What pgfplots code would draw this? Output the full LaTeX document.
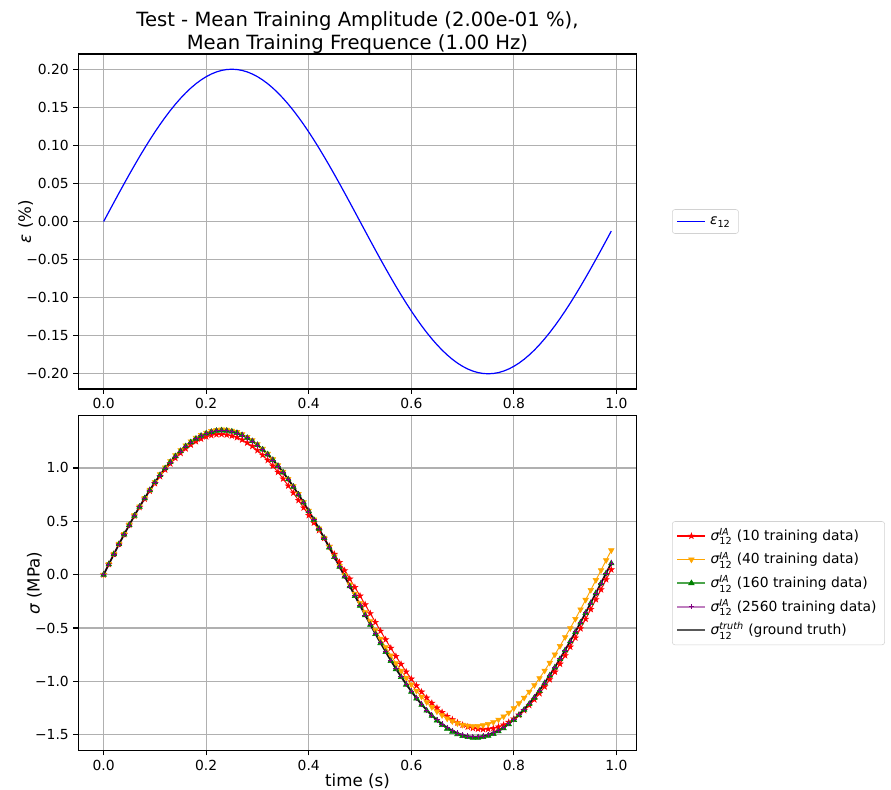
\documentclass[border=0pt]{standalone}
\usepackage{fontspec}
\setmainfont{DejaVu Sans}
\usepackage{amsmath}
\usepackage{pgfplots}
\usepackage{pgfplotstable}
\pgfplotsset{compat=1.18}

\definecolor{mplorange}{RGB}{255,165,0}
\definecolor{mplgreen}{RGB}{0,128,0}
\definecolor{mplpurple}{RGB}{128,0,128}
\definecolor{mplblue}{RGB}{0,0,255}
\definecolor{gridgray}{RGB}{176,176,176}

\pgfdeclareplotmark{fstar}{%
  \pgfpathmoveto{\pgfpointpolar{90}{\pgfplotmarksize}}%
  \pgfpathlineto{\pgfpointpolar{126}{0.382\pgfplotmarksize}}%
  \pgfpathlineto{\pgfpointpolar{162}{\pgfplotmarksize}}%
  \pgfpathlineto{\pgfpointpolar{198}{0.382\pgfplotmarksize}}%
  \pgfpathlineto{\pgfpointpolar{234}{\pgfplotmarksize}}%
  \pgfpathlineto{\pgfpointpolar{270}{0.382\pgfplotmarksize}}%
  \pgfpathlineto{\pgfpointpolar{306}{\pgfplotmarksize}}%
  \pgfpathlineto{\pgfpointpolar{342}{0.382\pgfplotmarksize}}%
  \pgfpathlineto{\pgfpointpolar{18}{\pgfplotmarksize}}%
  \pgfpathlineto{\pgfpointpolar{54}{0.382\pgfplotmarksize}}%
  \pgfpathclose
  \pgfusepathqfillstroke}

\pgfplotstableread{
t eps r o g tr
0.00 0.00000 0.000 0.000 0.000 0.000
0.01 0.01256 0.097 0.100 0.097 0.097
0.02 0.02507 0.192 0.195 0.192 0.192
0.03 0.03748 0.286 0.289 0.286 0.286
0.04 0.04974 0.377 0.380 0.377 0.377
0.05 0.06180 0.466 0.469 0.466 0.466
0.06 0.07363 0.551 0.556 0.553 0.553
0.07 0.08516 0.632 0.639 0.636 0.636
0.08 0.09635 0.710 0.719 0.716 0.716
0.09 0.10717 0.784 0.795 0.792 0.792
0.10 0.11756 0.855 0.868 0.865 0.865
0.11 0.12748 0.921 0.941 0.933 0.933
0.12 0.13691 0.983 1.005 0.997 0.997
0.13 0.14579 1.040 1.064 1.056 1.056
0.14 0.15410 1.092 1.118 1.110 1.110
0.15 0.16180 1.139 1.167 1.159 1.159
0.16 0.16887 1.181 1.211 1.203 1.203
0.17 0.17526 1.217 1.249 1.241 1.241
0.18 0.18097 1.248 1.282 1.274 1.274
0.19 0.18596 1.273 1.309 1.301 1.301
0.20 0.19021 1.293 1.331 1.323 1.323
0.21 0.19372 1.306 1.346 1.338 1.338
0.22 0.19646 1.314 1.356 1.348 1.348
0.23 0.19842 1.316 1.360 1.352 1.352
0.24 0.19961 1.311 1.357 1.349 1.349
0.25 0.20000 1.301 1.349 1.341 1.341
0.26 0.19961 1.286 1.336 1.328 1.328
0.27 0.19842 1.264 1.316 1.308 1.308
0.28 0.19646 1.236 1.290 1.282 1.282
0.29 0.19372 1.204 1.260 1.252 1.252
0.30 0.19021 1.165 1.223 1.215 1.215
0.31 0.18596 1.121 1.179 1.173 1.173
0.32 0.18097 1.073 1.133 1.127 1.127
0.33 0.17526 1.019 1.081 1.075 1.075
0.34 0.16887 0.961 1.025 1.019 1.019
0.35 0.16180 0.899 0.964 0.958 0.958
0.36 0.15410 0.833 0.897 0.893 0.893
0.37 0.14579 0.766 0.828 0.824 0.824
0.38 0.13691 0.697 0.755 0.751 0.751
0.39 0.12748 0.627 0.679 0.675 0.675
0.40 0.11756 0.556 0.600 0.596 0.596
0.41 0.10717 0.486 0.517 0.514 0.514
0.42 0.09635 0.415 0.433 0.430 0.430
0.43 0.08516 0.342 0.347 0.344 0.344
0.44 0.07363 0.267 0.258 0.255 0.255
0.45 0.06180 0.192 0.169 0.166 0.166
0.46 0.04974 0.116 0.082 0.073 0.076
0.47 0.03748 0.039 -0.005 -0.018 -0.015
0.48 0.02507 -0.040 -0.093 -0.110 -0.107
0.49 0.01256 -0.119 -0.180 -0.201 -0.198
0.50 0.00000 -0.199 -0.266 -0.291 -0.288
0.51 -0.01256 -0.281 -0.352 -0.381 -0.378
0.52 -0.02507 -0.364 -0.437 -0.470 -0.467
0.53 -0.03748 -0.446 -0.520 -0.557 -0.554
0.54 -0.04974 -0.528 -0.601 -0.642 -0.639
0.55 -0.06180 -0.609 -0.680 -0.725 -0.722
0.56 -0.07363 -0.688 -0.757 -0.809 -0.803
0.57 -0.08516 -0.765 -0.830 -0.886 -0.880
0.58 -0.09635 -0.839 -0.900 -0.960 -0.954
0.59 -0.10717 -0.910 -0.967 -1.031 -1.025
0.60 -0.11756 -0.977 -1.030 -1.098 -1.092
0.61 -0.12748 -1.040 -1.089 -1.161 -1.155
0.62 -0.13691 -1.099 -1.144 -1.220 -1.214
0.63 -0.14579 -1.154 -1.195 -1.274 -1.268
0.64 -0.15410 -1.204 -1.241 -1.323 -1.317
0.65 -0.16180 -1.249 -1.282 -1.367 -1.361
0.66 -0.16887 -1.290 -1.318 -1.410 -1.400
0.67 -0.17526 -1.327 -1.349 -1.444 -1.434
0.68 -0.18097 -1.359 -1.374 -1.472 -1.462
0.69 -0.18596 -1.387 -1.394 -1.495 -1.485
0.70 -0.19021 -1.409 -1.408 -1.512 -1.502
0.71 -0.19372 -1.426 -1.417 -1.523 -1.513
0.72 -0.19646 -1.439 -1.421 -1.529 -1.519
0.73 -0.19842 -1.446 -1.419 -1.528 -1.518
0.74 -0.19961 -1.449 -1.412 -1.522 -1.512
0.75 -0.20000 -1.447 -1.400 -1.510 -1.500
0.76 -0.19961 -1.440 -1.383 -1.493 -1.483
0.77 -0.19842 -1.426 -1.359 -1.469 -1.459
0.78 -0.19646 -1.408 -1.330 -1.441 -1.431
0.79 -0.19372 -1.383 -1.294 -1.402 -1.396
0.80 -0.19021 -1.352 -1.253 -1.362 -1.356
0.81 -0.18596 -1.315 -1.206 -1.317 -1.311
0.82 -0.18097 -1.272 -1.154 -1.267 -1.261
0.83 -0.17526 -1.224 -1.097 -1.212 -1.206
0.84 -0.16887 -1.171 -1.036 -1.153 -1.147
0.85 -0.16180 -1.113 -0.970 -1.089 -1.083
0.86 -0.15410 -1.050 -0.900 -1.017 -1.015
0.87 -0.14579 -0.983 -0.826 -0.945 -0.943
0.88 -0.13691 -0.912 -0.749 -0.870 -0.868
0.89 -0.12748 -0.837 -0.669 -0.791 -0.789
0.90 -0.11756 -0.758 -0.586 -0.709 -0.707
0.91 -0.10717 -0.677 -0.502 -0.625 -0.623
0.92 -0.09635 -0.592 -0.415 -0.538 -0.536
0.93 -0.08516 -0.505 -0.326 -0.449 -0.447
0.94 -0.07363 -0.416 -0.236 -0.359 -0.357
0.95 -0.06180 -0.325 -0.144 -0.267 -0.265
0.96 -0.04974 -0.233 -0.051 -0.174 -0.172
0.97 -0.03748 -0.140 0.041 -0.081 -0.079
0.98 -0.02507 -0.046 0.135 0.013 0.015
0.99 -0.01256 0.047 0.228 0.106 0.108
}\data

\pgfplotsset{
  mplaxis/.style={
    scale only axis, width=418.8pt, height=251.25pt,
    xmin=-0.0495, xmax=1.0395,
    xtick={0,0.2,0.4,0.6,0.8,1.0},
    xticklabels={0.0,0.2,0.4,0.6,0.8,1.0},
    grid=major,
    major grid style={color=gridgray, line width=0.83pt},
    axis line style={line width=0.83pt},
    tick align=outside, tick pos=left,
    major tick length=3.6pt,
    every tick/.style={black, line width=0.83pt},
    ticklabel style={font=\fontsize{10.4}{12}\selectfont},
    label style={font=\fontsize{12.5}{15}\selectfont},
    ylabel shift=-12pt,
    legend cell align=left,
  },
}

\begin{document}
\begin{tikzpicture}
\path[use as bounding box] (-58.7pt,-300pt) rectangle (609.55pt,291.75pt);

\begin{axis}[mplaxis,
  ymin=-0.22, ymax=0.22,
  ytick={-0.2,-0.15,-0.1,-0.05,0,0.05,0.1,0.15,0.2},
  yticklabels={−0.20,−0.15,−0.10,−0.05,0.00,0.05,0.10,0.15,0.20},
  ylabel={{\itshape ε} (\%)},
  title={Test - Mean Training Amplitude (2.00e-01 \%),\\Mean Training Frequence (1.00 Hz)},
  title style={font=\fontsize{14.7}{17.25}\selectfont, align=center, yshift=-9pt},
  legend style={font=\fontsize{10.4}{12}\selectfont, draw=gray!35, rounded corners=2pt,
    at={(1.0633,0.5)}, anchor=west, inner xsep=3pt, inner ysep=2pt,
    nodes={inner xsep=3pt, inner ysep=2pt, text height=7.5pt, text depth=2.5pt}},
]
\addplot[color=blue, line width=0.9pt, forget plot] table[x=t, y=eps] {\data};
\addlegendimage{blue, line width=1.3pt, line legend,
  legend image code/.code={\draw[blue, line width=1.3pt] (0pt,0pt) -- (21pt,0pt);}}
\addlegendentry{$\text{\itshape ε}_{\text{12}}$}
\end{axis}

\begin{axis}[mplaxis, at={(0pt,-271.25pt)}, anchor=south west,
  ymin=-1.65, ymax=1.49,
  ytick={-1.5,-1,-0.5,0,0.5,1},
  yticklabels={−1.5,−1.0,−0.5,0.0,0.5,1.0},
  ylabel={{\itshape σ} (MPa)},
  xlabel={time (s)},
  xlabel style={yshift=4.5pt},
  legend style={font=\fontsize{10.4}{12}\selectfont, draw=gray!35, rounded corners=2pt,
    at={(1.0633,0.5)}, anchor=west, inner xsep=3pt, inner ysep=2pt,
    nodes={inner xsep=3pt, inner ysep=1.6pt, text height=10.5pt, text depth=4pt}},
]
\addplot[color=red, line width=0.7pt, mark=fstar, mark size=2.3pt,
  mark options={solid, line width=0.4pt},
  legend image code/.code={\draw[draw=red, fill=red, line width=0.8pt, mark=fstar, mark size=2.3pt,
    mark options={solid, draw=red, fill=red, line width=0.4pt}, mark repeat=2, mark phase=2]
    plot coordinates {(0pt,0pt) (10.5pt,0pt) (21pt,0pt)};}]
  table[x=t, y=r] {\data};
\addlegendentry{$\text{\itshape σ}^{\text{\itshape IA}}_{\text{12}}$ (10 training data)}
\addplot[color=mplorange, line width=0.7pt, mark=triangle*, mark size=2.4pt,
  mark options={solid, rotate=180, line width=0.4pt},
  legend image code/.code={\draw[draw=mplorange, line width=0.8pt, mark=triangle*, mark size=2.4pt,
    mark options={solid, rotate=180, draw=mplorange, fill=mplorange, line width=0.4pt}, mark repeat=2, mark phase=2]
    plot coordinates {(0pt,0pt) (10.5pt,0pt) (21pt,0pt)};}]
  table[x=t, y=o] {\data};
\addlegendentry{$\text{\itshape σ}^{\text{\itshape IA}}_{\text{12}}$ (40 training data)}
\addplot[color=mplgreen, line width=0.9pt, mark=triangle*, mark size=2.4pt,
  mark options={solid, line width=0.4pt},
  legend image code/.code={\draw[draw=mplgreen, draw opacity=0.7, line width=1.1pt, mark=triangle*, mark size=2.4pt,
    mark options={solid, draw=mplgreen, fill=mplgreen, draw opacity=1, line width=0.4pt}, mark repeat=2, mark phase=2]
    plot coordinates {(0pt,0pt) (10.5pt,0pt) (21pt,0pt)};}]
  table[x=t, y=g] {\data};
\addlegendentry{$\text{\itshape σ}^{\text{\itshape IA}}_{\text{12}}$ (160 training data)}
\addplot[color=mplpurple, draw opacity=0.5, line width=1.5pt, mark=+, mark size=2pt,
  mark options={solid, draw opacity=1, line width=0.6pt},
  legend image code/.code={\draw[draw=mplpurple, draw opacity=0.5, line width=1.7pt, mark=+, mark size=2pt,
    mark options={solid, draw=mplpurple, draw opacity=1, line width=0.6pt}, mark repeat=2, mark phase=2]
    plot coordinates {(0pt,0pt) (10.5pt,0pt) (21pt,0pt)};}]
  table[x=t, y=tr] {\data};
\addlegendentry{$\text{\itshape σ}^{\text{\itshape IA}}_{\text{12}}$ (2560 training data)}
\addplot[color=black, draw opacity=0.8, line width=1.1pt,
  legend image code/.code={\draw[draw=black, draw opacity=0.65, line width=1.4pt] (0pt,0pt) -- (21pt,0pt);}]
  table[x=t, y=tr] {\data};
\addlegendentry{$\text{\itshape σ}^{\text{\itshape truth}}_{\text{12}}$ (ground truth)}
\end{axis}
\end{tikzpicture}
\end{document}
